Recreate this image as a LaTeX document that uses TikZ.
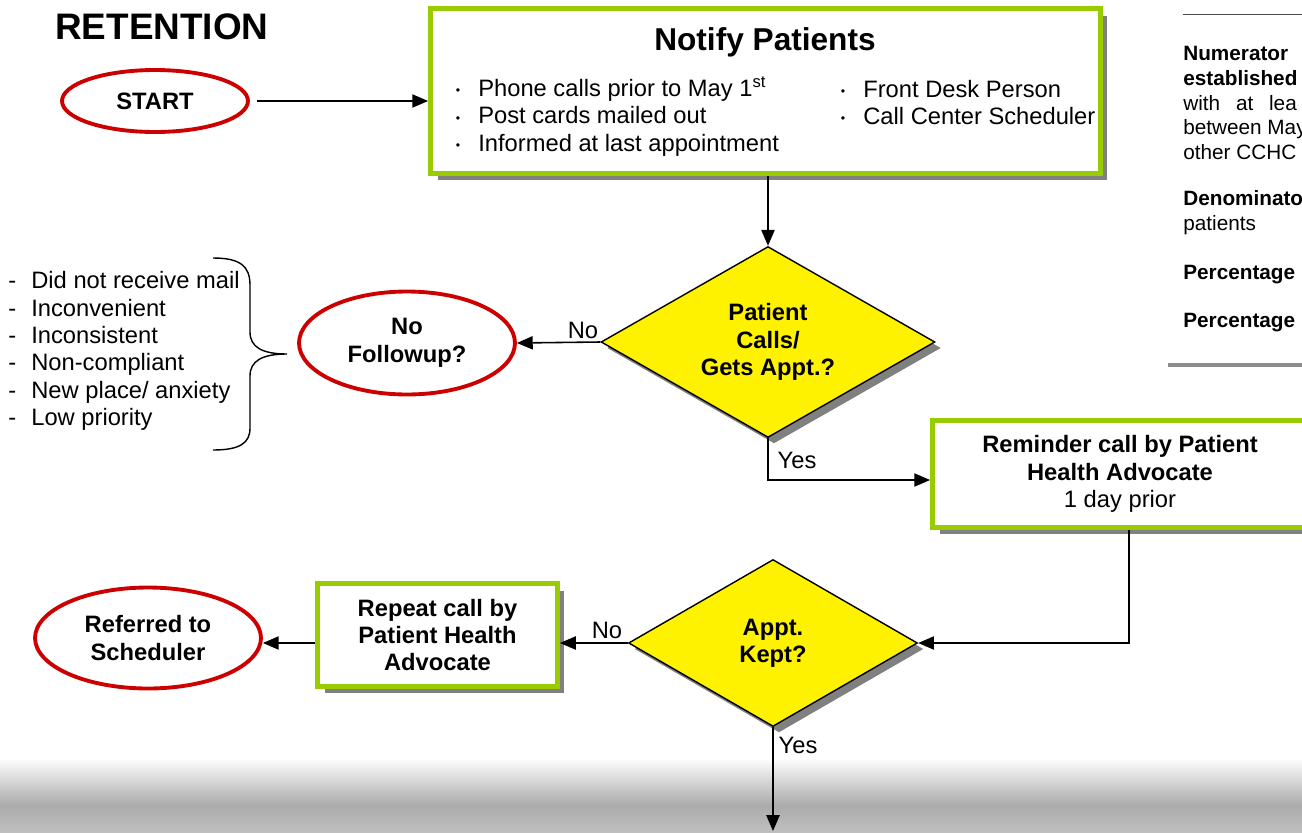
\documentclass[tikz,border=0pt]{standalone}
\usepackage{fontspec}
\setmainfont{Liberation Sans}
\usetikzlibrary{shapes.geometric, arrows.meta, positioning, shadows}
\usepackage{xcolor}
\definecolor{termred}{HTML}{CC0000}
\definecolor{boxgreen}{HTML}{99CC00}
\definecolor{fadegray}{HTML}{ABABAB}
\newcommand{\bulletdot}{\makebox[0.5cm][l]{\hspace{1.5pt}\raisebox{1pt}{\fontsize{7}{7}\selectfont\textbullet}}}
\newcommand{\dashitem}{\makebox[0.46cm][l]{-}}

\begin{document}
\begin{tikzpicture}[x=0.02cm, y=-0.02cm,
    font=\fontsize{13.5}{15.6}\selectfont,
    term/.style={ellipse, draw=termred, line width=2.2pt, fill=white, align=center, inner sep=1pt, font=\fontsize{13.5}{15.6}\selectfont\bfseries},
    box/.style={rectangle, draw=boxgreen, line width=2.8pt, fill=white, align=center, drop shadow={shadow xshift=0.14cm, shadow yshift=-0.14cm, fill=black!50, opacity=1}},
    decision/.style={diamond, draw, line width=0.8pt, fill=yellow, aspect=1.75, inner sep=0pt, align=center, font=\fontsize{13.5}{15.6}\selectfont\bfseries, drop shadow={shadow xshift=0.12cm, shadow yshift=-0.12cm, fill=black!50, opacity=1}},
    plaintext/.style={inner sep=0pt, align=left, anchor=west},
    lbl/.style={inner sep=1pt},
    arr/.style={-{Triangle[length=9pt, width=7.5pt]}, line width=0.9pt}
]
\fill[white] (0,0) rectangle (1302,832);
\useasboundingbox (0,0) rectangle (1302,832);
\shade[top color=white, bottom color=fadegray] (0,758) rectangle (1302,805);
\shade[top color=fadegray, bottom color=black!25] (0,805) rectangle (1302,832);

\node[anchor=west, inner sep=0pt, font=\fontsize{21}{25}\selectfont\bfseries] (title) at (55,27) {RETENTION};

\node[box, minimum width=13.4cm, minimum height=3.3cm] (notify) at (765.5,91) {};
\node[font=\fontsize{18}{21}\selectfont\bfseries] (notifyhead) at (765,42) {Notify Patients};
\node[plaintext] (notifyhow) at (453,116.5) {\bulletdot Phone calls prior to May 1\textsuperscript{st}\\\bulletdot Post cards mailed out\\\bulletdot Informed at last appointment};
\node[plaintext] (notifywho) at (838,102.5) {\bulletdot Front Desk Person\\\bulletdot Call Center Scheduler};

\node[term, minimum width=3.72cm, minimum height=1.24cm] (start) at (155,101) {START};
\node[decision, minimum width=6.68cm, minimum height=3.82cm] (calls) at (768,342) {Patient\\Calls/\\Gets Appt.?};
\node[term, minimum width=4.32cm, minimum height=2.06cm] (followup) at (407,343) {No\\Followup?};
\node[box, minimum width=7.5cm, minimum height=2.14cm] (reminder) at (1120,474) {\textbf{Reminder call by Patient}\\\textbf{Health Advocate}\\1 day prior};
\node[decision, minimum width=5.78cm, minimum height=3.34cm] (kept) at (773,643) {Appt.\\Kept?};
\node[box, minimum width=4.8cm, minimum height=2.05cm] (repeat) at (437.5,635) {\textbf{Repeat call by}\\\textbf{Patient Health}\\\textbf{Advocate}};
\node[term, minimum width=4.52cm, minimum height=2.02cm] (referred) at (148,638) {Referred to\\Scheduler};
\coordinate (onward) at (773,831);

\node[plaintext] (reasons) at (8,351) {\dashitem Did not receive mail\\\dashitem Inconvenient\\\dashitem Inconsistent\\\dashitem Non-compliant\\\dashitem New place/ anxiety\\\dashitem Low priority};
\draw[line width=0.8pt] (213,258) .. controls (240,258) and (250,266) .. (250,285) -- (250,332) .. controls (250,347) and (262,354) .. (287,354) .. controls (262,354) and (250,361) .. (250,376) -- (250,428) .. controls (250,443) and (240,450) .. (213,450);

\draw[arr, shorten <=4pt] (start) -- (start -| notify.west);
\draw[arr] (notify.south -| calls) -- (calls);
\draw[arr] (calls.west) -- (followup.east);
\node[lbl] (callsno) at (583,330) {No};
\draw[arr] (calls.south) |- ([yshift=-0.12cm]reminder.west);
\node[lbl] (callsyes) at (797,460) {Yes};
\draw[arr] ([xshift=0.18cm]reminder.south) |- (kept.east);
\draw[arr] (kept.west) -- (kept.west -| repeat.east);
\node[lbl] (keptno) at (607,630) {No};
\draw[arr] (repeat.west |- kept.west) -- (referred.east |- kept.west);
\draw[arr] (kept.south) -- (onward);
\node[lbl] (keptyes) at (798,745) {Yes};

\begin{scope}
\clip (1160,0) rectangle (1302,832);
\draw[black!70, line width=0.5pt] (1183,14) -- (1302,14);
\node[plaintext, font=\fontsize{11.8}{14.2}\selectfont] (numer) at (1183,103) {\textbf{Numerator}\\\textbf{established}\\with\hspace{9pt}at\hspace{9pt}lea\\between May\\other CCHC};
\node[plaintext, font=\fontsize{11.8}{14.2}\selectfont] (denom) at (1183,212.5) {\textbf{Denominato}\\patients};
\node[plaintext, font=\fontsize{11.8}{14.2}\selectfont\bfseries] (pctone) at (1183,275) {Percentage};
\node[plaintext, font=\fontsize{11.8}{14.2}\selectfont\bfseries] (pcttwo) at (1183,323) {Percentage};
\draw[black!45, line width=2.4pt] (1168,365) -- (1302,365);
\end{scope}
\end{tikzpicture}
\end{document}
